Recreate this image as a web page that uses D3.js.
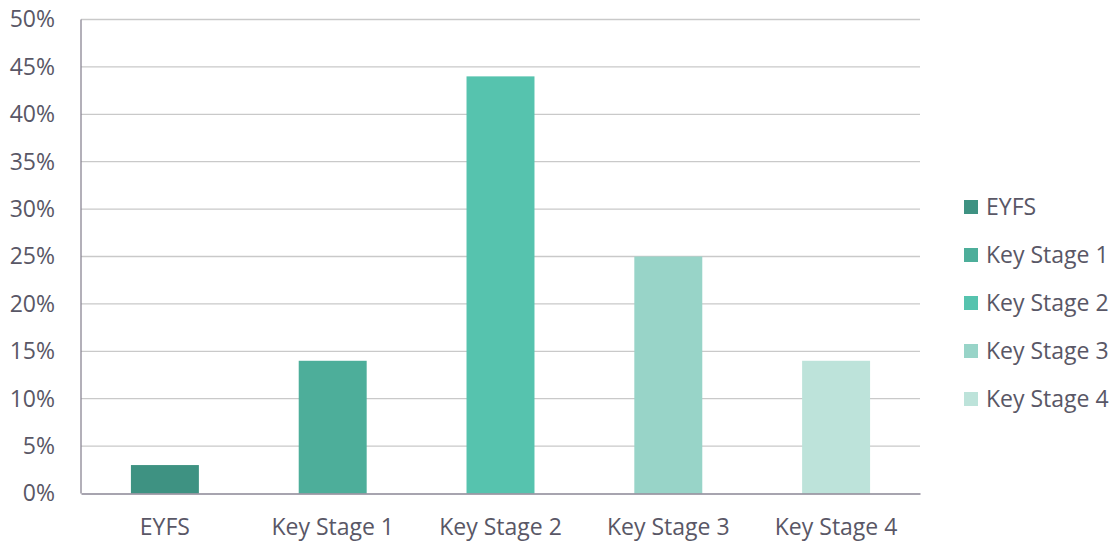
<!DOCTYPE html>
<html>
<head>
<meta charset="utf-8">
<script src="https://cdn.jsdelivr.net/npm/d3@7"></script>
<style>
  body { margin: 0; background: #fff; }
  text { font-family: "Open Sans", Lato, sans-serif; fill: #595766; }
</style>
</head>
<body>
<div id="chart"></div>
<script>
var width = 1117,
    height = 542;

// data
var stages = ["EYFS", "Key Stage 1", "Key Stage 2", "Key Stage 3", "Key Stage 4"];
var shares = [3, 14, 44, 25, 14];
var colours = ["#3e9282", "#4dae9a", "#56c3ae", "#98d4c8", "#bde3da"];
var yTicks = [0, 5, 10, 15, 20, 25, 30, 35, 40, 45, 50];

var margin = {left: 81, right: 197, top: 19.5, bottom: 48.5};
var fontFamily = "'Open Sans', Lato, sans-serif";
var fontSize = 23;

var svg = d3.select("#chart").append("svg")
    .attr("width", width)
    .attr("height", height);

var x = d3.scaleBand()
    .domain(stages)
    .range([margin.left, width - margin.right])
    .paddingInner(0.595)
    .paddingOuter(0.2975);

var y = d3.scaleLinear()
    .domain([0, 50])
    .range([height - margin.bottom, margin.top]);

// gridlines
svg.append("g")
    .selectAll("line")
    .data(yTicks.slice(1))
    .enter().append("line")
    .attr("x1", margin.left)
    .attr("x2", width - margin.right)
    .attr("y1", function (d) { return y(d); })
    .attr("y2", function (d) { return y(d); })
    .attr("stroke", "#c9c9c9")
    .attr("stroke-width", 1.3);

// y axis labels
var yAxis = d3.axisLeft(y)
    .tickValues(yTicks)
    .tickSize(0)
    .tickPadding(26)
    .tickFormat(function (d) { return d + "%"; });

var gy = svg.append("g")
    .attr("transform", "translate(" + margin.left + ",0)")
    .call(yAxis);
gy.select(".domain").remove();
gy.selectAll("text")
    .attr("font-size", fontSize)
    .style("font-family", fontFamily)
    .attr("fill", "#595766");

// bars
svg.selectAll("rect.bar")
    .data(shares)
    .enter().append("rect")
    .attr("class", "bar")
    .attr("x", function (d, i) { return x(stages[i]); })
    .attr("y", function (d) { return y(d); })
    .attr("width", x.bandwidth())
    .attr("height", function (d) { return y(0) - y(d); })
    .attr("fill", function (d, i) { return colours[i]; });

// axis lines
svg.append("line")
    .attr("x1", margin.left)
    .attr("x2", margin.left)
    .attr("y1", y(50))
    .attr("y2", y(0))
    .attr("stroke", "#8a8694")
    .attr("stroke-width", 1.3);

var xAxis = d3.axisBottom(x)
    .tickSize(0)
    .tickPadding(25);

var gx = svg.append("g")
    .attr("transform", "translate(0," + y(0) + ")")
    .call(xAxis);
gx.select(".domain")
    .attr("stroke", "#8a8694")
    .attr("stroke-width", 1.5);
gx.selectAll("text")
    .attr("font-size", fontSize)
    .style("font-family", fontFamily)
    .attr("fill", "#595766");

// legend
var legend = svg.append("g")
    .selectAll("g")
    .data(stages)
    .enter().append("g")
    .attr("transform", function (d, i) {
        return "translate(964," + (207 + i * 48) + ")";
    });
legend.append("rect")
    .attr("x", 0)
    .attr("y", -7)
    .attr("width", 14)
    .attr("height", 14)
    .attr("fill", function (d, i) { return colours[i]; });
legend.append("text")
    .attr("x", 22)
    .attr("dy", "0.35em")
    .attr("font-size", fontSize)
    .text(function (d) { return d; });
</script>
</body>
</html>
